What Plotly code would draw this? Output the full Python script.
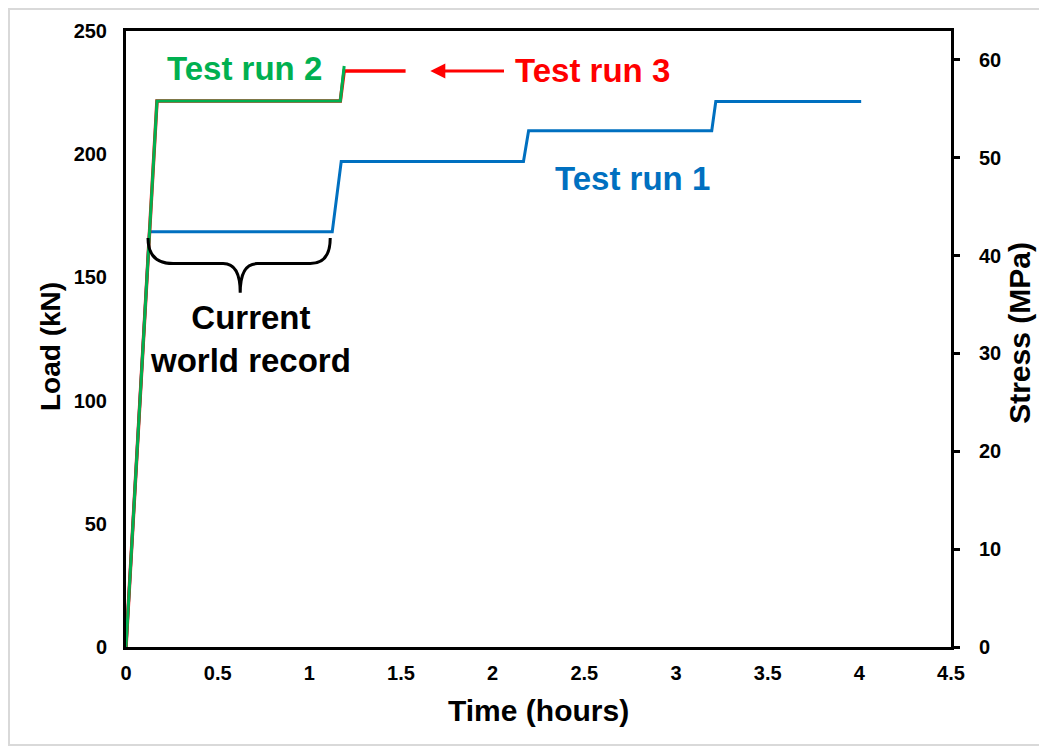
import plotly.graph_objects as go

# ---- data (time in hours, load in kN) ----
run1_time = [0, 0.128, 1.125, 1.174, 2.168, 2.196, 3.195, 3.217, 4.01]
run1_load = [0, 168.5, 168.5, 197.0, 197.0, 209.5, 209.5, 221.4, 221.4]

run2_time = [0, 0.169, 1.169, 1.19]
run2_load = [0, 221.6, 221.6, 235.8]

run3_time = [0, 0.169, 1.169, 1.19, 1.525]
run3_load = [0, 221.6, 221.6, 233.8, 233.8]

x_ticks = [0, 0.5, 1, 1.5, 2, 2.5, 3, 3.5, 4, 4.5]
x_tick_labels = ["0", "0.5", "1", "1.5", "2", "2.5", "3", "3.5", "4", "4.5"]
load_ticks = [0, 50, 100, 150, 200, 250]
stress_ticks = [0, 10, 20, 30, 40, 50, 60]
stress_max = 62.96  # MPa equivalent of 250 kN

BLUE = "#0070C0"
GREEN = "#00B050"
RED = "#FF0000"
FONT = "Liberation Sans, Arial, sans-serif"

fig = go.Figure()
fig.add_trace(go.Scatter(x=run1_time, y=run1_load, mode="lines",
                         line=dict(color=BLUE, width=3), name="Test run 1",
                         hoverinfo="skip"))
fig.add_trace(go.Scatter(x=run3_time, y=run3_load, mode="lines",
                         line=dict(color=RED, width=3.5), name="Test run 3",
                         hoverinfo="skip"))
fig.add_trace(go.Scatter(x=run2_time, y=run2_load, mode="lines",
                         line=dict(color=GREEN, width=3), name="Test run 2",
                         hoverinfo="skip"))
# anchor trace for the secondary (stress) axis
fig.add_trace(go.Scatter(x=[None], y=[None], yaxis="y2", showlegend=False,
                         hoverinfo="skip"))

tickfont = dict(family=FONT, size=20, color="black", weight="bold")

fig.update_layout(
    width=1047, height=747,
    margin=dict(l=118, r=104, t=23, b=108),
    paper_bgcolor="white", plot_bgcolor="white",
    showlegend=False,
    xaxis=dict(range=[0, 4.5], tickvals=x_ticks, ticktext=x_tick_labels,
               showgrid=False, zeroline=False, showline=True,
               linecolor="black", linewidth=3, mirror=True,
               ticks="", tickfont=tickfont, ticklabelstandoff=6),
    yaxis=dict(range=[0, 250], tickvals=load_ticks,
               showgrid=False, zeroline=False, showline=True,
               linecolor="black", linewidth=3, mirror=False,
               ticks="", tickfont=tickfont, ticklabelstandoff=12),
    yaxis2=dict(range=[0, stress_max], tickvals=stress_ticks,
                overlaying="y", side="right",
                showgrid=False, zeroline=False, showline=True,
                linecolor="black", linewidth=3,
                ticks="outside", ticklen=6, tickwidth=3, tickcolor="black",
                tickfont=tickfont, ticklabelstandoff=15),
)

# axis titles
fig.add_annotation(text="Time (hours)", xref="paper", yref="paper",
                   x=0.5, y=-0.1023, showarrow=False,
                   font=dict(family=FONT, size=30, color="black", weight="bold"),
                   xanchor="center", yanchor="middle")
fig.add_annotation(text="Load (kN)", xref="paper", yref="paper",
                   x=-0.0921, y=0.487, showarrow=False,
                   font=dict(family=FONT, size=28, color="black", weight="bold"),
                   textangle=-90, xanchor="center", yanchor="middle")
fig.add_annotation(text="Stress (MPa)", xref="paper", yref="paper",
                   x=1.0836, y=0.51, showarrow=False,
                   font=dict(family=FONT, size=30, color="black", weight="bold"),
                   textangle=-90, xanchor="center", yanchor="middle")

# labels
lab = dict(family=FONT, size=33, weight="bold")
fig.add_annotation(text="Test run 2", x=0.644, y=234.6, showarrow=False,
                   font=dict(lab, color=GREEN))
fig.add_annotation(text="Test run 3", x=2.545, y=233.8, showarrow=False,
                   font=dict(lab, color=RED))
fig.add_annotation(text="Test run 1", x=2.763, y=190, showarrow=False,
                   font=dict(lab, color=BLUE))
fig.add_annotation(text="Current<br>world record", x=0.677, y=125.2,
                   showarrow=False, font=dict(lab, color="black"))

# red arrow pointing to test run 3
fig.add_annotation(x=1.66, y=233.8, ax=2.07, ay=233.8, axref="x", ayref="y",
                   text="", showarrow=True, arrowhead=2, arrowsize=1,
                   arrowwidth=3, arrowcolor=RED, standoff=0)

# curly brace under the first blue plateau
fig.add_shape(type="path", xref="x", yref="y",
              path=("M 0.12,166 Q 0.12,155.6 0.257,155.6 L 0.53,155.6 "
                    "Q 0.623,155.6 0.623,143.8 Q 0.623,155.6 0.715,155.6 "
                    "L 1.005,155.6 Q 1.114,155.6 1.114,166"),
              line=dict(color="black", width=3))

# light outer frame
fig.add_shape(type="rect", xref="paper", yref="paper",
              x0=-0.1418, x1=1.109, y0=-0.159, y1=1.0357,
              line=dict(color="#d9d9d9", width=2), layer="below")

fig.write_html("out.html")
